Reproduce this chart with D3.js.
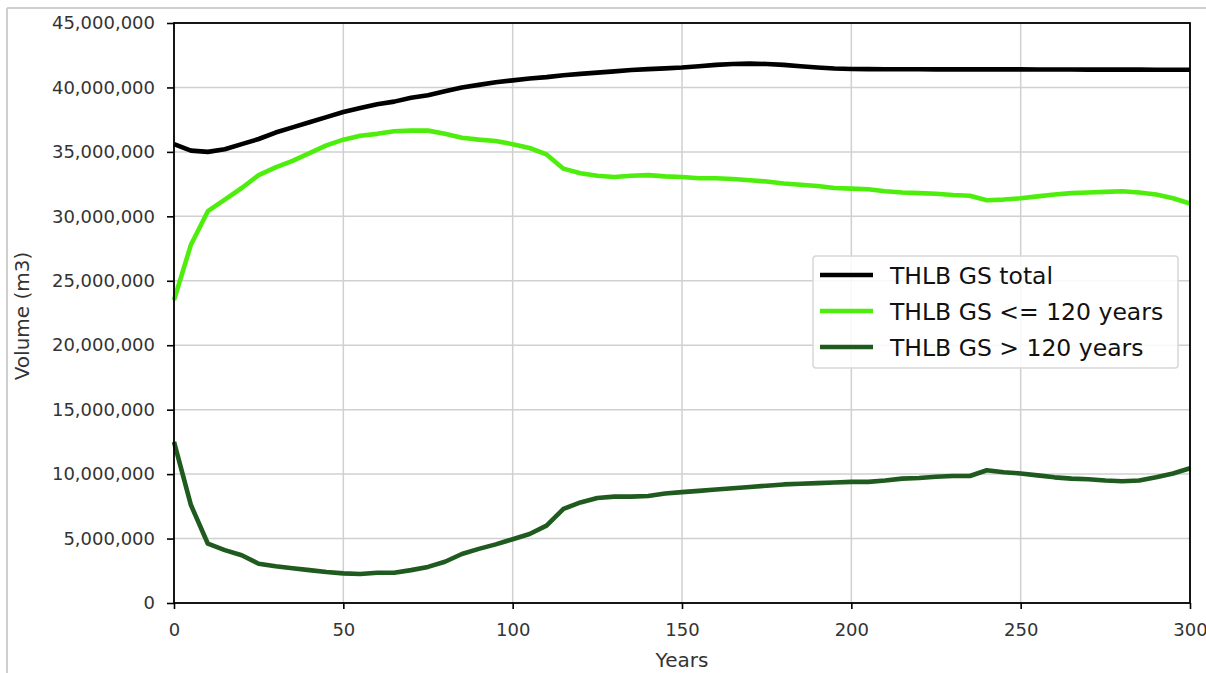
<!DOCTYPE html>
<html>
<head>
<meta charset="utf-8">
<script src="https://cdn.jsdelivr.net/npm/d3@7"></script>
<style>
  body { margin: 0; background: #fff; }
  svg { display: block; font-family: "DejaVu Sans", sans-serif; }
</style>
</head>
<body>
<div id="chart"></div>
<script>
// years, every 5 from 0 to 300
var years = d3.range(0, 301, 5);

// volumes in millions of m3
var gsTotal = [35.6, 35.1, 35.0, 35.2, 35.6, 36.0, 36.5, 36.9, 37.3, 37.7,
  38.1, 38.4, 38.7, 38.9, 39.2, 39.4, 39.7, 40.0, 40.2, 40.4,
  40.55, 40.7, 40.8, 40.95, 41.05, 41.15, 41.25, 41.35, 41.42, 41.48,
  41.55, 41.65, 41.75, 41.82, 41.85, 41.82, 41.75, 41.65, 41.55, 41.47,
  41.43, 41.42, 41.41, 41.41, 41.41, 41.4, 41.4, 41.4, 41.4, 41.4,
  41.4, 41.39, 41.39, 41.39, 41.38, 41.38, 41.38, 41.38, 41.37, 41.37, 41.37];

var gsYoung = [23.5, 27.8, 30.4, 31.3, 32.2, 33.2, 33.8, 34.3, 34.9, 35.5,
  35.95, 36.25, 36.4, 36.6, 36.65, 36.65, 36.4, 36.1, 35.95, 35.85,
  35.6, 35.3, 34.8, 33.7, 33.35, 33.15, 33.05, 33.15, 33.2, 33.1,
  33.05, 32.95, 32.95, 32.9, 32.8, 32.7, 32.55, 32.45, 32.35, 32.2,
  32.15, 32.1, 31.95, 31.85, 31.8, 31.75, 31.65, 31.6, 31.25, 31.3,
  31.4, 31.55, 31.7, 31.8, 31.85, 31.9, 31.95, 31.85, 31.7, 31.4, 31.0];

var gsOld = [12.5, 7.6, 4.6, 4.1, 3.7, 3.05, 2.85, 2.7, 2.55, 2.4,
  2.3, 2.25, 2.35, 2.35, 2.55, 2.8, 3.2, 3.8, 4.2, 4.55,
  4.95, 5.35, 6.0, 7.3, 7.8, 8.15, 8.25, 8.25, 8.3, 8.5,
  8.6, 8.7, 8.8, 8.9, 9.0, 9.1, 9.2, 9.25, 9.3, 9.35,
  9.4, 9.4, 9.5, 9.65, 9.7, 9.8, 9.85, 9.85, 10.3, 10.15,
  10.05, 9.9, 9.75, 9.65, 9.6, 9.5, 9.45, 9.5, 9.75, 10.05, 10.45];

var seriesNames = ["THLB GS total", "THLB GS <= 120 years", "THLB GS > 120 years"];
var seriesColors = ["#000000", "#4dee0c", "#1f5a1f"];
var xTicks = [0, 50, 100, 150, 200, 250, 300];
var yTicks = d3.range(0, 45000001, 5000000);

var W = 1206, H = 673;
var margin = {left: 174, right: 16, top: 23, bottom: 70};

var svg = d3.select("#chart").append("svg").attr("width", W).attr("height", H);

// light frame round the figure
svg.append("line").attr("x1", 7).attr("x2", 7).attr("y1", 8).attr("y2", H)
  .style("stroke", "#cfcfcf").style("stroke-width", 2);
svg.append("line").attr("x1", 7).attr("x2", W).attr("y1", 8).attr("y2", 8)
  .style("stroke", "#cfcfcf").style("stroke-width", 2);

var x = d3.scaleLinear().domain([0, 300]).range([margin.left, W - margin.right]);
var y = d3.scaleLinear().domain([0, 45000000]).range([H - margin.bottom, margin.top]);

var fmt = d3.format(",");

// grid
var grid = svg.append("g");
grid.selectAll(".vg").data(xTicks).enter().append("line")
  .attr("x1", function(d) { return x(d); }).attr("x2", function(d) { return x(d); })
  .attr("y1", y(0)).attr("y2", y(45000000))
  .style("stroke", "#d0d0d0").style("stroke-width", 1.5);
grid.selectAll(".hg").data(yTicks).enter().append("line")
  .attr("x1", x(0)).attr("x2", x(300))
  .attr("y1", function(d) { return y(d); }).attr("y2", function(d) { return y(d); })
  .style("stroke", "#d0d0d0").style("stroke-width", 1.5);

// lines
var line = d3.line()
  .x(function(d, i) { return x(years[i]); })
  .y(function(d) { return y(d * 1e6); });

var allSeries = [gsTotal, gsYoung, gsOld];
svg.selectAll(".series").data(allSeries).enter().append("path")
  .attr("d", line)
  .style("fill", "none")
  .style("stroke", function(d, i) { return seriesColors[i]; })
  .style("stroke-width", 4.6)
  .style("stroke-linejoin", "round");

// frame (spines)
svg.append("rect")
  .attr("x", x(0)).attr("y", y(45000000))
  .attr("width", x(300) - x(0)).attr("height", y(0) - y(45000000))
  .style("fill", "none").style("stroke", "#000").style("stroke-width", 1.8);

// axes
var xAxis = svg.append("g").attr("transform", "translate(0," + y(0) + ")")
  .call(d3.axisBottom(x).tickValues(xTicks).tickSize(6).tickPadding(14));
var yAxis = svg.append("g").attr("transform", "translate(" + x(0) + ",0)")
  .call(d3.axisLeft(y).tickValues(yTicks).tickSize(7).tickPadding(12).tickFormat(fmt));

[xAxis, yAxis].forEach(function(a) {
  a.select(".domain").remove();
  a.selectAll(".tick line").style("stroke", "#000").style("stroke-width", 1.6);
  a.selectAll("text").style("font-size", "18px").style("fill", "#333")
    .style("font-family", "DejaVu Sans, sans-serif");
});

// axis titles
svg.append("text").attr("x", x(150)).attr("y", 667)
  .attr("text-anchor", "middle").style("font-size", "20px").style("fill", "#333")
  .text("Years");
svg.append("text").attr("transform", "translate(29,316) rotate(-90)")
  .attr("text-anchor", "middle").style("font-size", "20px").style("fill", "#333")
  .text("Volume (m3)");

// legend
var lg = svg.append("g").attr("transform", "translate(813,256)");
lg.append("rect").attr("width", 365).attr("height", 112).attr("rx", 3)
  .style("fill", "rgba(255,255,255,0.85)").style("stroke", "#d8d8d8").style("stroke-width", 1.5);
var item = lg.selectAll(".item").data(seriesNames).enter().append("g")
  .attr("transform", function(d, i) { return "translate(0," + (19 + i * 36) + ")"; });
item.append("line").attr("x1", 7).attr("x2", 60)
  .style("stroke", function(d, i) { return seriesColors[i]; }).style("stroke-width", 4.6);
item.append("text").attr("x", 77).attr("y", 8.5)
  .style("font-size", "23.5px").style("fill", "#111")
  .text(function(d) { return d; });
</script>
</body>
</html>
